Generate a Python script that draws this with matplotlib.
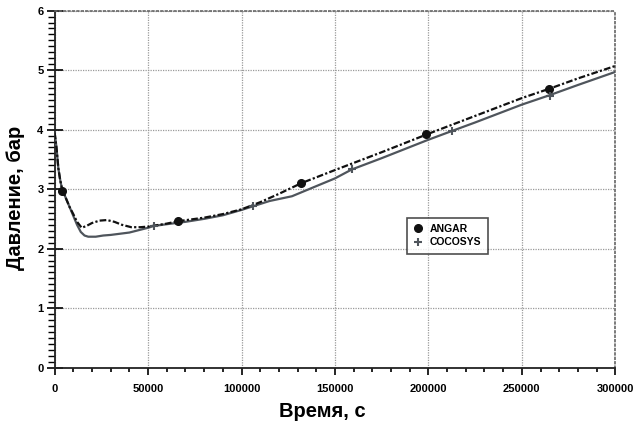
import numpy as np
import matplotlib
matplotlib.use("Agg")
import matplotlib.pyplot as plt
from matplotlib.ticker import MultipleLocator

plt.rcParams['font.family'] = ['Liberation Sans', 'DejaVu Sans']

# ANGAR curve (time, s / pressure, bar)
angar_t = [0, 1000, 2000, 3000, 4000, 6000, 8000, 10000, 12000, 14500, 17000,
           20000, 24000, 28000, 32000, 36000, 41000, 46000, 50000, 60000, 66000,
           80000, 90000, 100000, 110000, 120000, 132000, 150000, 175000, 200000,
           225000, 250000, 265000, 280000, 300000]
angar_p = [3.95, 3.7, 3.35, 3.15, 3.0, 2.85, 2.7, 2.58, 2.45, 2.35, 2.38,
           2.43, 2.47, 2.48, 2.45, 2.4, 2.36, 2.36, 2.37, 2.42, 2.46,
           2.52, 2.58, 2.66, 2.78, 2.92, 3.1, 3.32, 3.62, 3.93,
           4.23, 4.53, 4.69, 4.86, 5.07]
angar_mark_t = [4000, 66000, 132000, 198700, 264600]
angar_mark_p = [2.97, 2.46, 3.1, 3.93, 4.68]

# COCOSYS curve
cocosys_t = [0, 1000, 2000, 3000, 4000, 6000, 8000, 10000, 12000, 14000, 16000,
             18000, 22000, 26000, 30000, 35000, 40000, 45000, 50000, 53000, 60000,
             70000, 80000, 90000, 100000, 106000, 115000, 127000, 140000, 150000,
             159000, 175000, 200000, 212000, 225000, 250000, 265000, 280000, 300000]
cocosys_p = [3.95, 3.7, 3.35, 3.15, 3.0, 2.85, 2.7, 2.55, 2.4, 2.28, 2.22,
             2.2, 2.2, 2.22, 2.23, 2.25, 2.27, 2.31, 2.35, 2.38, 2.41,
             2.45, 2.5, 2.56, 2.65, 2.71, 2.8, 2.88, 3.05, 3.18,
             3.33, 3.52, 3.83, 3.97, 4.12, 4.42, 4.58, 4.75, 4.97]
cocosys_mark_t = [53000, 106000, 159000, 212400, 265300]
cocosys_mark_p = [2.38, 2.71, 3.34, 3.97, 4.57]

fig = plt.figure(figsize=(6.35, 4.24), dpi=100)
ax = fig.add_axes([0.086, 0.133, 0.883, 0.842])

# lines
ax.plot(cocosys_t, cocosys_p, color='#4f555c', lw=1.6, zorder=3)
ax.plot(angar_t, angar_p, color='#111111', lw=1.6,
        linestyle=(0, (3, 1, 1, 1)), zorder=4)

# markers
ax.plot(angar_mark_t, angar_mark_p, 'o', color='#111111', ms=5.5, zorder=5, label='ANGAR')
ax.plot(cocosys_mark_t, cocosys_mark_p, '+', color='#4f555c', ms=5.5, mew=1.5,
        zorder=5, label='COCOSYS')

ax.set_xlim(0, 300000)
ax.set_ylim(0, 6)
ax.xaxis.set_major_locator(MultipleLocator(50000))
ax.xaxis.set_minor_locator(MultipleLocator(10000))
ax.yaxis.set_major_locator(MultipleLocator(1))
ax.yaxis.set_minor_locator(MultipleLocator(0.1))

ax.grid(True, which='major', color='#9a9a9a', linestyle=(0, (1, 1)), lw=0.9)
ax.set_axisbelow(True)

ax.tick_params(axis='x', which='major', direction='out', length=5, width=1.2,
               labelsize=8, pad=7)
ax.tick_params(axis='x', which='minor', direction='out', length=3, width=1.2)
ax.tick_params(axis='y', which='major', direction='inout', length=12, width=1.2,
               labelsize=8, pad=2)
ax.tick_params(axis='y', which='minor', direction='out', length=5, width=1.0)
for lbl in ax.get_xticklabels() + ax.get_yticklabels():
    lbl.set_fontweight('bold')

for side in ['left', 'bottom']:
    ax.spines[side].set_color('#222222')
    ax.spines[side].set_linewidth(1.3)
for side in ['top', 'right']:
    ax.spines[side].set_color('#666666')
    ax.spines[side].set_linewidth(1.2)
    ax.spines[side].set_linestyle(':')

ax.set_xlabel('Время, с', fontsize=14.5, fontweight='bold')
ax.set_ylabel('Давление, бар', fontsize=14.5, fontweight='bold')
ax.xaxis.set_label_coords(0.477, -0.095)
ax.yaxis.set_label_coords(-0.053, 0.476)

leg = ax.legend(loc='lower left', bbox_to_anchor=(0.619, 0.305), frameon=True,
                fancybox=False, edgecolor='#222222',
                handlelength=1.0, handletextpad=0.6, borderpad=0.6,
                labelspacing=0.3, prop={'weight': 'bold', 'size': 7.5})
leg.get_frame().set_linewidth(1.2)

fig.savefig('out.png', dpi=100)
